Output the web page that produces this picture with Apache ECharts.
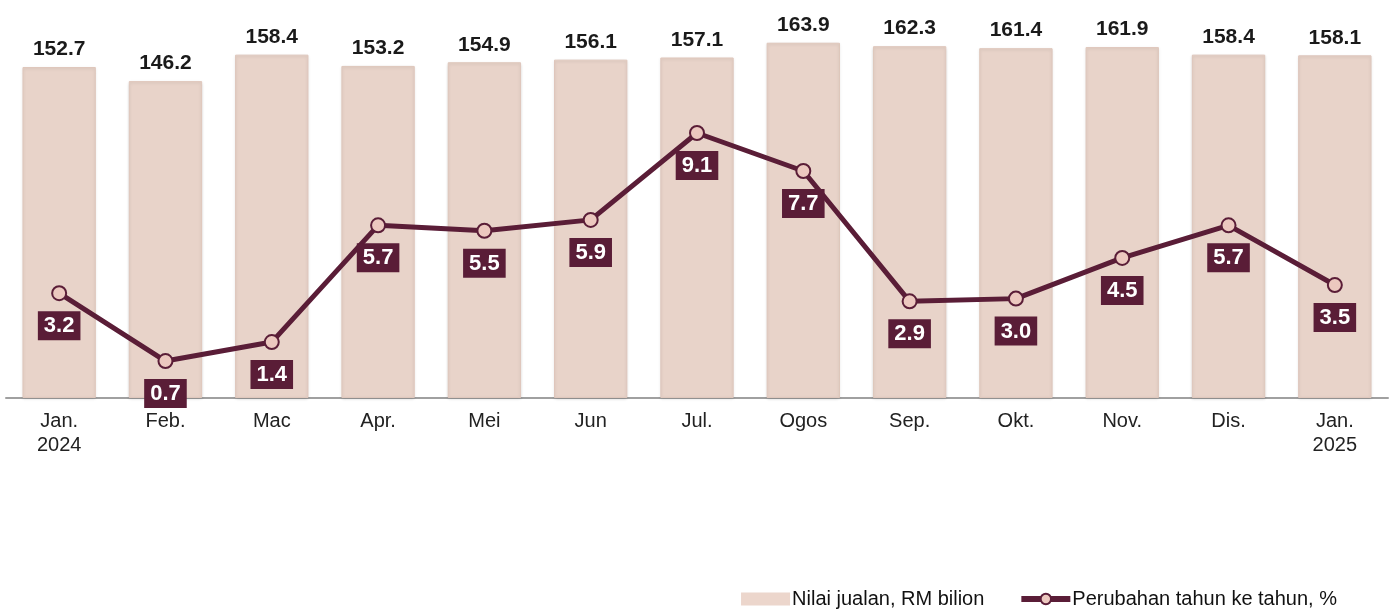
<!DOCTYPE html>
<html>
<head>
<meta charset="utf-8">
<script src="https://cdn.jsdelivr.net/npm/echarts@6/dist/echarts.min.js"></script>
<style>
html,body{margin:0;padding:0;background:#fff;}
#chart{width:1393px;height:615px;}
</style>
</head>
<body>
<div id="chart"></div>
<script>
const categories = ['Jan.\n2024','Feb.','Mac','Apr.','Mei','Jun','Jul.','Ogos','Sep.','Okt.','Nov.','Dis.','Jan.\n2025'];
const salesValue = [152.7,146.2,158.4,153.2,154.9,156.1,157.1,163.9,162.3,161.4,161.9,158.4,158.1];
const yoyChange = [3.2,0.7,1.4,5.7,5.5,5.9,9.1,7.7,2.9,3.0,4.5,5.7,3.5];
const seriesNames = ['Nilai jualan, RM bilion','Perubahan tahun ke tahun, %'];

const chart = echarts.init(document.getElementById('chart'));
const font = 'Liberation Sans, Arial, sans-serif';
chart.setOption({
  animation:false,
  textStyle:{fontFamily:font},
  grid:{left:6,right:5,top:10,bottom:217,containLabel:false},
  legend:{
    right:51,bottom:1,itemGap:34,itemWidth:49,itemHeight:13,
    textStyle:{fontFamily:font,fontSize:20,color:'#111',padding:[0,0,0,-3]},
    data:[
      {name:seriesNames[0],icon:'rect',itemStyle:{color:'#ecd6cc',borderWidth:0}},
      {name:seriesNames[1],lineStyle:{width:6,color:'#5a1d37'},itemStyle:{color:'#ecc8bf',borderColor:'#5a1d37',borderWidth:2}}
    ]
  },
  xAxis:{
    type:'category',data:categories,
    axisLine:{lineStyle:{color:'#a0a0a0',width:2}},
    axisTick:{show:false},
    axisLabel:{fontFamily:font,fontSize:20,color:'#222',margin:11,lineHeight:24,interval:0}
  },
  yAxis:[
    {type:'value',min:0,max:179,show:false,splitLine:{show:false}},
    {type:'value',min:-0.66,max:13.63,show:false,splitLine:{show:false}}
  ],
  series:[
    {
      name:seriesNames[0],type:'bar',data:salesValue,barWidth:'69%',
      itemStyle:{color:'#e8d3c9',borderColor:'#dfc7bc',borderWidth:1,shadowColor:'rgba(0,0,0,0.12)',shadowBlur:3,shadowOffsetY:1},
      label:{show:true,position:'top',distance:7,fontFamily:font,fontSize:21,fontWeight:'bold',color:'#1a1a1a',formatter:p=>p.value.toFixed(1)}
    },
    {
      name:seriesNames[1],type:'line',yAxisIndex:1,data:yoyChange,
      lineStyle:{color:'#5a1d37',width:5},
      symbol:'circle',symbolSize:14,
      itemStyle:{color:'#ecc8bf',borderColor:'#5a1d37',borderWidth:2},
      label:{show:true,position:'bottom',distance:10,backgroundColor:'#5a1d37',color:'#fff',
        fontFamily:font,fontSize:22,fontWeight:'bold',lineHeight:22,padding:[4,6,3,6],formatter:p=>p.value.toFixed(1)}
    }
  ]
});
</script>
</body>
</html>
